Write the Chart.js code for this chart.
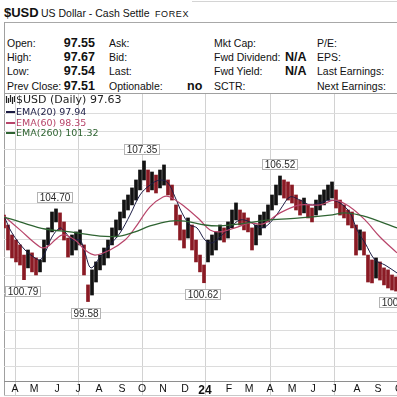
<!DOCTYPE html>
<html>
<head>
<meta charset="utf-8">
<script src="https://cdn.jsdelivr.net/npm/chart.js@4.4.1/dist/chart.umd.min.js"></script>
<style>
  html, body { margin: 0; padding: 0; background: #fff; }
  body { width: 397px; height: 397px; overflow: hidden; position: relative;
         font-family: "Liberation Sans", Arial, sans-serif; color: #111; }
  .t { position: absolute; white-space: nowrap; }
  .lbl { font-size: 10.5px; line-height: 12px; }
  .val { font-size: 12.5px; line-height: 14px; font-weight: bold; }
  .hl { position: absolute; height: 1px; }
  .vl { position: absolute; width: 1px; }
  #wrap { position: absolute; left: 0; top: 93px; width: 430px; height: 304px; }
  .leg { position: absolute; white-space: nowrap; font-family: "DejaVu Sans", sans-serif; }
  .dash { display: inline-block; width: 9px; height: 2px; vertical-align: middle; margin-right: 1px; position: relative; top: -1px; }
</style>
</head>
<body>

<!-- header -->
<div class="hl" style="left:192px; top:1px; width:205px; background:#d4d4d4;"></div>
<div class="t" style="left:4px; top:6px; font-size:13px; line-height:14px; font-weight:bold;">$USD</div>
<div class="t" style="left:41px; top:7px; font-size:10.5px; line-height:12px;">US Dollar - Cash Settle</div>
<div class="t" style="left:155px; top:8px; font-size:9px; line-height:12px; letter-spacing:0.6px;">FOREX</div>
<div class="hl" style="left:4px; top:22px; width:393px; background:#a8a8a8;"></div>
<div class="vl" style="left:4px; top:22px; height:373px; background:#a0a0a0;"></div>

<div class="t lbl" style="left:7px; top:37px;">Open:</div>
<div class="t lbl" style="left:7px; top:51px;">High:</div>
<div class="t lbl" style="left:7px; top:65px;">Low:</div>
<div class="t lbl" style="left:7px; top:80px;">Prev Close:</div>
<div class="t val" style="left:55px; width:40px; text-align:right; top:36px;">97.55</div>
<div class="t val" style="left:55px; width:40px; text-align:right; top:50px;">97.67</div>
<div class="t val" style="left:55px; width:40px; text-align:right; top:64px;">97.54</div>
<div class="t val" style="left:55px; width:40px; text-align:right; top:79px;">97.51</div>

<div class="t lbl" style="left:109px; top:37px;">Ask:</div>
<div class="t lbl" style="left:109px; top:51px;">Bid:</div>
<div class="t lbl" style="left:109px; top:65px;">Last:</div>
<div class="t lbl" style="left:109px; top:80px;">Optionable:</div>
<div class="t val" style="left:187px; top:79px;">no</div>

<div class="t lbl" style="left:214px; top:37px;">Mkt Cap:</div>
<div class="t lbl" style="left:214px; top:51px;">Fwd Dividend:</div>
<div class="t lbl" style="left:214px; top:65px;">Fwd Yield:</div>
<div class="t lbl" style="left:214px; top:80px;">SCTR:</div>
<div class="t val" style="left:285px; top:50px;">N/A</div>
<div class="t val" style="left:285px; top:64px;">N/A</div>

<div class="t lbl" style="left:317px; top:37px;">P/E:</div>
<div class="t lbl" style="left:317px; top:51px;">EPS:</div>
<div class="t lbl" style="left:317px; top:65px;">Last Earnings:</div>
<div class="t lbl" style="left:317px; top:80px;">Next Earnings:</div>

<div class="hl" style="left:4px; top:93px; width:393px; background:#a0a0a0;"></div>

<div id="wrap"><canvas id="usdChart" width="430" height="304"></canvas></div>

<div class="hl" style="left:4px; top:395px; width:393px; background:#c8c8c8;"></div>

<!-- legend in chart -->
<svg class="t" style="left:5px; top:95px;" width="10" height="9">
  <path d="M1.5 1v7M3.5 3v5M5.5 0v7M7.5 2v7M9.5 1v6" stroke="#222" stroke-width="1.2"/>
</svg>
<div class="leg" style="left:16px; top:93px; font-size:11px; line-height:13px; color:#222;">$USD (Daily) 97.63</div>
<div class="leg" style="left:6px; top:106px; font-size:9.5px; line-height:12px; color:#1c1c44;"><span class="dash" style="background:#1c1c44;"></span>EMA(20) 97.94</div>
<div class="leg" style="left:6px; top:117px; font-size:9.5px; line-height:12px; color:#b8456a;"><span class="dash" style="background:#b8456a;"></span>EMA(60) 98.35</div>
<div class="leg" style="left:6px; top:127px; font-size:9.5px; line-height:12px; color:#2f6432;"><span class="dash" style="background:#2f6432;"></span>EMA(260) 101.32</div>

<script>
// Price bars, one every 4 trading days (day 0 = left edge of the plot)
const highs = [
  104.36, 103.81, 103.26, 102.98, 102.71, 102.15, 102.43, 102.27, 101.99, 101.88,
  102.98, 103.65, 104.53, 104.70, 104.48, 103.98, 103.09, 103.26, 103.43, 103.54,
  102.71, 100.50, 101.33, 101.77, 102.15, 102.54, 102.98, 103.65, 104.09, 104.53,
  105.19, 105.47, 105.86, 106.30, 106.85, 107.35, 106.85, 106.74, 106.57, 106.85,
  107.13, 106.30, 106.02, 104.92, 104.36, 103.54, 104.20, 103.81, 102.98, 102.15,
  101.60, 102.98, 103.26, 103.43, 103.81, 103.65, 103.98, 104.64, 105.03, 104.64,
  104.48, 104.20, 103.65, 103.81, 104.36, 104.53, 104.92, 105.47, 106.02, 106.52,
  106.30, 106.19, 106.02, 105.47, 105.19, 105.30, 104.92, 104.75, 105.19, 105.47,
  105.75, 106.02, 106.19, 105.75, 105.19, 104.92, 104.64, 104.53, 103.81, 103.54,
  103.43, 102.15, 101.88, 101.99, 101.77, 101.44, 101.33, 101.05, 100.94
];
const lows = [
  103.65, 102.43, 101.99, 101.77, 101.60, 100.79, 101.44, 101.22, 101.05, 101.22,
  101.77, 102.71, 103.43, 103.98, 103.54, 102.98, 102.04, 102.15, 102.43, 102.71,
  101.05, 99.58, 99.94, 100.66, 101.33, 101.60, 101.99, 102.71, 103.15, 103.54,
  104.20, 104.64, 104.92, 105.19, 105.75, 106.30, 105.64, 105.75, 105.58, 105.86,
  106.02, 105.47, 105.19, 103.81, 102.98, 102.54, 103.09, 102.43, 101.77, 101.22,
  100.62, 101.77, 102.15, 102.43, 102.98, 102.87, 103.09, 103.65, 104.09, 103.81,
  103.54, 103.43, 102.43, 102.71, 103.26, 103.65, 103.98, 104.64, 104.92, 105.47,
  105.30, 105.19, 105.03, 104.64, 104.36, 104.48, 104.20, 103.98, 104.36, 104.64,
  104.92, 105.19, 105.30, 104.75, 104.36, 104.20, 103.81, 103.65, 102.15, 102.43,
  102.15, 100.66, 100.61, 100.88, 100.77, 100.50, 100.33, 100.22, 100.16
];
const priceDays = highs.map((_, i) => i * 4);

// Moving averages
const ema20Days = [0, 8, 21, 31, 36, 41, 48, 56, 61, 68, 76, 81, 87, 96, 106, 116, 126, 136, 146, 156,
  164, 171, 178, 186, 193, 201, 208, 216, 226, 236, 246, 254, 261, 271, 278, 286, 296, 306, 316, 326,
  336, 346, 353, 361, 371, 381, 393];
const ema20 = [104.31, 103.37, 102.43, 101.99, 101.88, 102.27, 103.15, 103.65, 103.43, 102.98,
  102.98, 102.27, 101.44, 102.04, 102.71, 103.37, 104.36, 105.47, 106.02, 106.30,
  106.13, 105.36, 104.48, 103.81, 103.65, 102.98, 102.82, 103.15, 103.65, 104.09,
  103.98, 103.70, 103.70, 104.25, 104.81, 105.36, 105.19, 104.92, 105.03, 105.19,
  105.03, 104.48, 103.54, 102.82, 101.88, 101.60, 101.16];

const ema60Days = [0, 16, 36, 43, 51, 59, 71, 81, 91, 106, 121, 131, 146, 159, 166, 181, 196, 206, 216, 231,
  246, 259, 276, 296, 316, 331, 346, 361, 376, 393];
const ema60 = [104.31, 103.54, 102.60, 102.60, 102.98, 103.26, 102.98, 102.43, 102.15, 102.43,
  102.98, 103.65, 104.81, 105.36, 105.36, 104.81, 104.09, 103.54, 103.43, 103.65,
  103.92, 103.87, 104.48, 104.92, 104.92, 105.19, 104.81, 104.09, 103.15, 102.27];

const ema260Days = [0, 16, 41, 66, 96, 116, 131, 146, 166, 181, 201, 216, 236, 266, 296, 326, 341, 359, 393];
const ema260 = [104.25, 103.98, 103.59, 103.43, 103.20, 103.20, 103.43, 103.76, 104.03, 104.03,
  103.81, 103.76, 103.87, 104.09, 104.20, 104.36, 104.48, 104.31, 103.65];

// Month axis
const monthDays = [11, 30, 53, 74, 95, 118, 138, 159, 181, 201, 225, 245, 266, 288, 309, 330, 353, 374, 395];
const monthLabels = ['A', 'M', 'J', 'J', 'A', 'S', 'O', 'N', 'D', '24', 'F', 'M', 'A', 'M', 'J', 'J', 'A', 'S', 'O'];
const monthNums = [4, 5, 6, 7, 8, 9, 10, 11, 12, 1, 2, 3, 4, 5, 6, 7, 8, 9, 10];
const priceGrid = [96, 97, 98, 99, 100, 101, 102, 103, 104, 105, 106, 107, 108, 109, 110];

// Peak / trough labels
const markDays = [19, 51, 82, 138, 199, 276, 393];
const markVals = [100.79, 104.70, 99.58, 107.35, 100.62, 106.52, 100.16];
const markSide = ['low', 'high', 'low', 'high', 'low', 'high', 'low'];

const upColor = '#121212';
const downColor = '#8a1a24';
const barColors = highs.map((h, i) => {
    if (i === 0) return downColor;
    const mid = (h + lows[i]) / 2;
    const prev = (highs[i - 1] + lows[i - 1]) / 2;
    return mid >= prev ? upColor : downColor;
});

const isQuarter = (i) => (monthNums[i] - 1) % 3 === 0;

const markPlugin = {
    id: 'marks',
    afterDatasetsDraw(chart) {
        const { ctx, scales: { x, y } } = chart;
        ctx.save();
        ctx.font = '10px "Liberation Sans", Arial, sans-serif';
        markDays.forEach((d, i) => {
            const txt = markVals[i].toFixed(2);
            const w = Math.round(ctx.measureText(txt).width) + 5;
            const h = 11;
            const px = Math.round(x.getPixelForValue(d));
            const py = y.getPixelForValue(markVals[i]);
            const top = Math.round(markSide[i] === 'high' ? py - 6 - h : py + 6);
            const left = Math.round(px - w / 2);
            ctx.fillStyle = '#fff';
            ctx.fillRect(left, top, w, h);
            ctx.strokeStyle = '#b4b4b4';
            ctx.lineWidth = 1;
            ctx.strokeRect(left + 0.5, top + 0.5, w - 1, h - 1);
            ctx.fillStyle = '#2a2a2a';
            ctx.textAlign = 'center';
            ctx.textBaseline = 'middle';
            ctx.fillText(txt, left + w / 2, top + h / 2 + 0.5);
        });
        ctx.restore();
    }
};

const lineSet = (label, days, vals, color, width) => ({
    type: 'line',
    label: label,
    data: days.map((d, i) => ({ x: d, y: vals[i] })),
    borderColor: color,
    borderWidth: width,
    pointRadius: 0,
    tension: 0.35,
    order: 1
});

new Chart(document.getElementById('usdChart').getContext('2d'), {
    type: 'bar',
    data: {
        datasets: [
            lineSet('EMA(260)', ema260Days, ema260, '#2f6432', 1.3),
            lineSet('EMA(60)', ema60Days, ema60, '#b8456a', 1.2),
            lineSet('EMA(20)', ema20Days, ema20, '#1c1c44', 1),
            {
                type: 'bar',
                label: '$USD',
                data: priceDays.map((d, i) => ({ x: d, y: [lows[i], highs[i]] })),
                backgroundColor: barColors,
                barThickness: 3,
                grouped: false,
                order: 2
            }
        ]
    },
    options: {
        responsive: false,
        devicePixelRatio: 1,
        animation: false,
        layout: { padding: { left: 4, top: 1, right: 0, bottom: 0 } },
        plugins: {
            legend: { display: false },
            tooltip: { enabled: false }
        },
        scales: {
            x: {
                type: 'linear',
                min: 0,
                max: 426,
                offset: false,
                afterBuildTicks: (s) => { s.ticks = monthDays.map(v => ({ value: v })); },
                afterFit: (s) => { s.height = 16; },
                grid: {
                    offset: false,
                    color: (c) => isQuarter(c.index) ? '#d2d2d2' : 'rgba(0,0,0,0)',
                    tickColor: (c) => isQuarter(c.index) ? '#d2d2d2' : 'rgba(0,0,0,0)',
                    tickLength: 14
                },
                border: { color: '#8e8e8e' },
                ticks: {
                    autoSkip: false,
                    maxRotation: 0,
                    padding: -12,
                    color: '#111',
                    font: (c) => (c.index === 9
                        ? { family: '"Liberation Sans", Arial, sans-serif', size: 12, weight: 'bold' }
                        : { family: '"Liberation Sans", Arial, sans-serif', size: 10.5 }),
                    callback: (v, i) => monthLabels[i]
                }
            },
            y: {
                type: 'linear',
                position: 'right',
                min: 95.19,
                max: 111.05,
                afterBuildTicks: (s) => { s.ticks = priceGrid.map(v => ({ value: v })); },
                afterFit: (s) => { s.width = 0; },
                ticks: { display: false },
                grid: { color: '#dcdcdc', drawTicks: false },
                border: { display: false }
            }
        }
    },
    plugins: [markPlugin]
});
</script>
</body>
</html>
